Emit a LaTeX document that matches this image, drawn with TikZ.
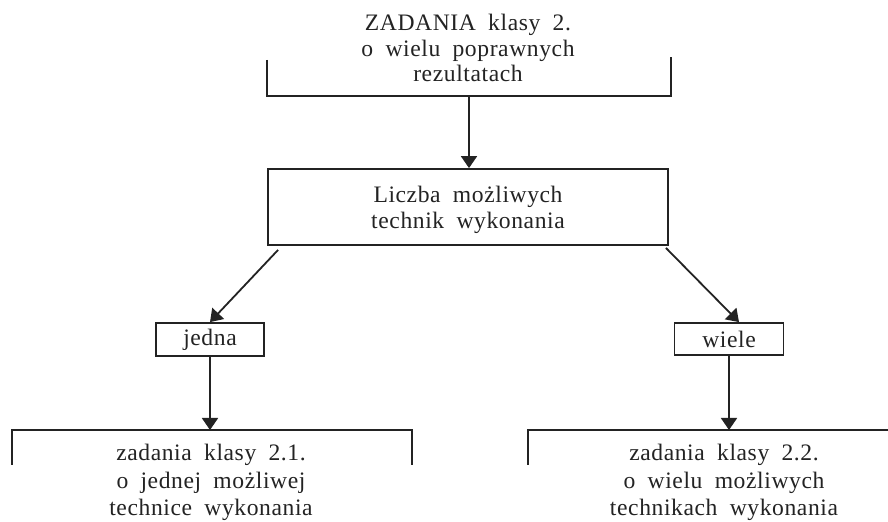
\documentclass[tikz,border=0pt]{standalone}
\usepackage{fontspec}
\setmainfont[LetterSpace=2.5]{Liberation Serif}
\usetikzlibrary{arrows.meta,calc}
\definecolor{ink}{HTML}{232323}
\newcommand\diagfontA{\fontsize{11.8}{12.75}\selectfont\spaceskip 0.52em\relax}
\newcommand\diagfontB{\fontsize{11.8}{13.75}\selectfont\spaceskip 0.52em\relax}
\newcommand\diagfontC{\fontsize{11.8}{13}\selectfont\spaceskip 0.52em\relax}
\begin{document}
\begin{tikzpicture}[x=0.5pt,y=-0.5pt,line width=0.9pt,draw=ink,
  txt/.style={font=\diagfontA,align=center,inner sep=0pt,text=ink},
  txtb/.style={txt,font=\diagfontB},
  txtc/.style={txt,font=\diagfontC},
  box/.style={draw=ink,inner sep=0pt},
  arr/.style={-{Triangle[width=8pt,length=6pt]}}]
\useasboundingbox (0,0) rectangle (888,522);
\fill[white] (0,0) rectangle (888,522);
% top
\node[txt,anchor=north] (top) at (468,13.5) {ZADANIA klasy 2.\\o wielu poprawnych\\rezultatach};
\draw[ink] (267,60) |- (671,96) -- (671,57);
\coordinate (topjoin) at (469,96);
% middle box
\node[box,minimum width=200pt,minimum height=38pt] (mid) at (468,207) {};
\node[txtc,anchor=north] (midtxt) at (468,185.5) {Liczba możliwych\\technik wykonania};
\draw[ink,arr] (topjoin) -- (topjoin |- mid.north);
% small boxes
\node[box,txt,minimum width=54pt,minimum height=16.5pt] (jedna) at (210,339.5) {jedna};
\node[box,txt,minimum width=54.5pt,minimum height=16pt] (wiele) at (729,339) {wiele};
\draw[ink,arr] ([xshift=5.5pt,yshift=-2pt]mid.south west) -- (jedna.north);
\draw[ink,arr] ([xshift=-1.5pt,yshift=-1pt]mid.south east) -- ([xshift=5pt]wiele.north);
% bottom brackets
\coordinate (bl) at (211,430);
\coordinate (br) at (730,430);
\draw[ink] (12,465) |- (412,430) -- (412,465);
\draw[ink] (528,465) |- (892,430);
\draw[ink,arr] (jedna.south) -- (jedna.south |- bl);
\draw[ink,arr] (wiele.south) -- (wiele.south |- br);
\node[txtb,anchor=north] (t21) at (211,443.5) {zadania klasy 2.1.\\o jednej możliwej\\technice wykonania};
\node[txtb,anchor=north] (t22) at (724,443.5) {zadania klasy 2.2.\\o wielu możliwych\\technikach wykonania};
\end{tikzpicture}
\end{document}
